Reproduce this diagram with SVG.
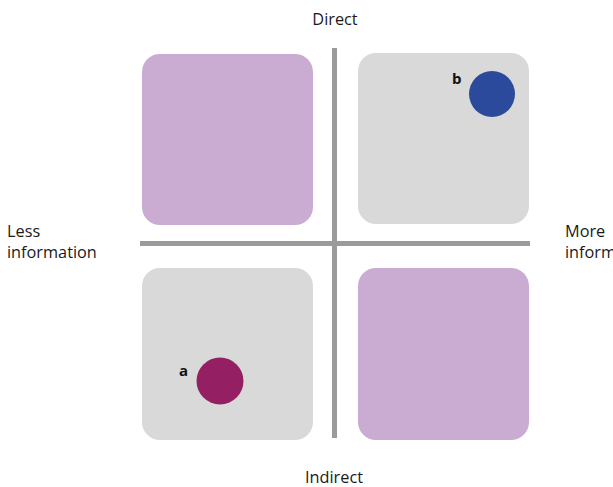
<svg xmlns="http://www.w3.org/2000/svg" width="613" height="487" viewBox="0 0 613 487">
<style>
.lbl{font-family:"Open Sans","Liberation Sans",sans-serif;font-size:16.3px;fill:#1a1a1a}
.pt{font-family:"Open Sans","Liberation Sans",sans-serif;font-size:15px;font-weight:bold;fill:#111}
.purple{fill:#CAACD2}
.gray{fill:#D9D9D9}
.axis{stroke:#9B9B9B;stroke-width:5;fill:none}
</style>
<rect width="613" height="487" fill="#fff"/>
<g id="q-top-left"><rect class="purple" x="142" y="54" width="171" height="171" rx="18"/></g>
<g id="q-top-right"><rect class="gray" x="358" y="53" width="171" height="171" rx="18"/></g>
<g id="q-bottom-left"><rect class="gray" x="142" y="268" width="171" height="172" rx="18"/></g>
<g id="q-bottom-right"><rect class="purple" x="358" y="268" width="171" height="172" rx="18"/></g>
<g id="axes">
<line class="axis" x1="334.5" y1="48" x2="334.5" y2="438"/>
<line class="axis" x1="140" y1="243.5" x2="530" y2="243.5"/>
</g>
<g id="point-b"><circle cx="492" cy="94" r="23" fill="#2B4A9B"/><text class="pt" x="452" y="84">b</text></g>
<g id="point-a"><circle cx="220" cy="381" r="23.5" fill="#951F63"/><text class="pt" x="179" y="376">a</text></g>
<g id="labels">
<text class="lbl" x="335" y="25" text-anchor="middle">Direct</text>
<text class="lbl" x="334" y="483" text-anchor="middle">Indirect</text>
<text class="lbl" x="7" y="237">Less</text>
<text class="lbl" x="7" y="258">information</text>
<text class="lbl" x="565" y="237">More</text>
<text class="lbl" x="565" y="258">information</text>
</g>
</svg>
